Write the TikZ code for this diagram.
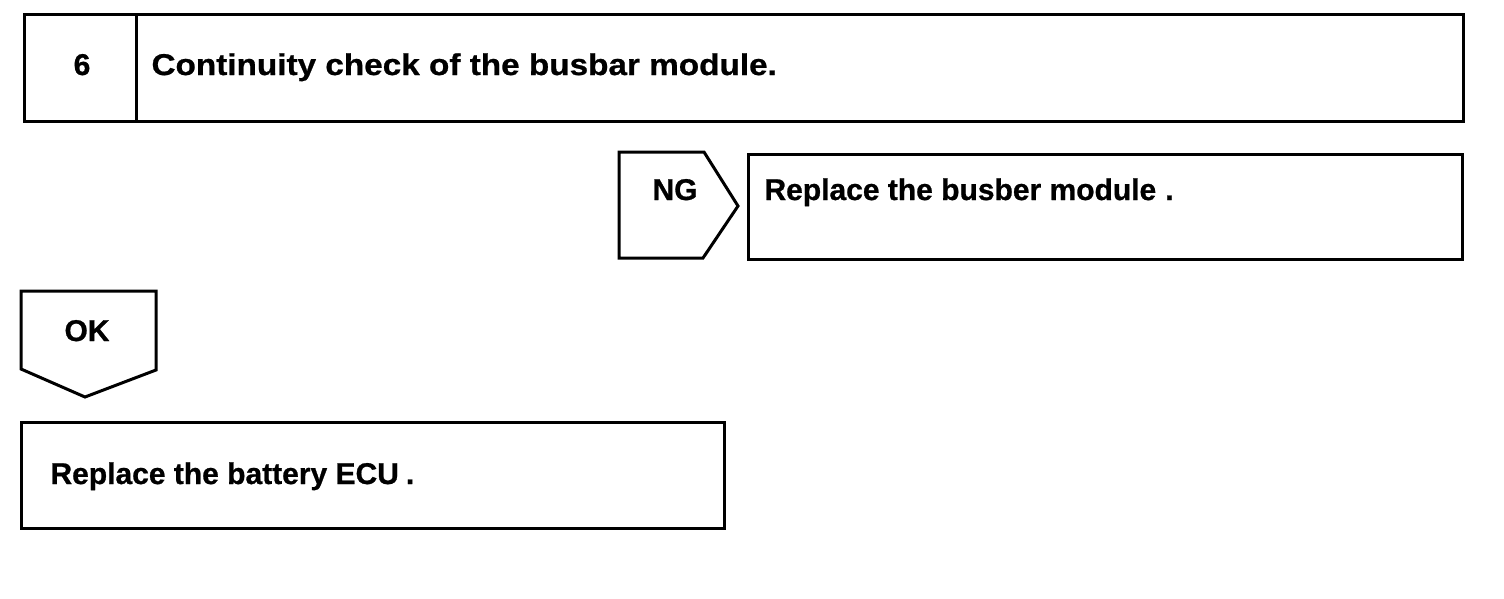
\documentclass[tikz,border=0pt]{standalone}
\usepackage{fontspec}
\setmainfont[BoldFeatures={FakeBold=0.8}]{Liberation Sans}
\newfontfamily\widefont[FakeStretch=1.11,BoldFeatures={FakeBold=0.8}]{Liberation Sans}
\begin{document}
\begin{tikzpicture}[x=1pt,y=-1pt,line width=3pt,line join=miter,
  box/.style={draw,rectangle,inner sep=0pt,line width=3pt,anchor=north west},
  lbl/.style={font=\fontsize{30}{30}\selectfont\bfseries,inner sep=0pt,anchor=base west},
  tag/.style={font=\fontsize{30}{30}\selectfont\bfseries,inner sep=0pt,anchor=base}]
\useasboundingbox (0,0) rectangle (1504,598);
% header box
\node[box,minimum width=1439pt,minimum height=107pt] (head) at (23,13) {};
\draw ([xshift=113pt]head.north west) -- ([xshift=113pt]head.south west);
\node[tag] (num) at (82,75) {6};
\node[lbl,font=\fontsize{30}{30}\selectfont\widefont\bfseries] (title) at (150,75) {Continuity check of the busbar module.};
% NG tag
\coordinate (ng1) at (619,152);
\coordinate (ng2) at (704,152);
\coordinate (ng3) at (738,206);
\coordinate (ng4) at (703,258);
\coordinate (ng5) at (619,258);
\draw (ng1) -- (ng2) -- (ng3) -- (ng4) -- (ng5) -- cycle;
\node[tag] (ng) at (675,200) {NG};
% NG result box
\node[box,minimum width=714pt,minimum height=105pt] (ngbox) at (747,153) {};
\node[lbl] (ngtext) at (763,200) {Replace the busber module\kern9pt.};
% OK tag
\coordinate (ok1) at (21,291);
\coordinate (ok2) at (156,291);
\coordinate (ok3) at (156,370);
\coordinate (ok4) at (85,397);
\coordinate (ok5) at (21,369);
\draw (ok1) -- (ok2) -- (ok3) -- (ok4) -- (ok5) -- cycle;
\node[tag] (ok) at (87,341) {OK};
% OK result box
\node[box,minimum width=703pt,minimum height=106pt] (okbox) at (20,421) {};
\node[lbl] (oktext) at (49,484) {Replace the battery ECU\kern7pt.};
\end{tikzpicture}
\end{document}
